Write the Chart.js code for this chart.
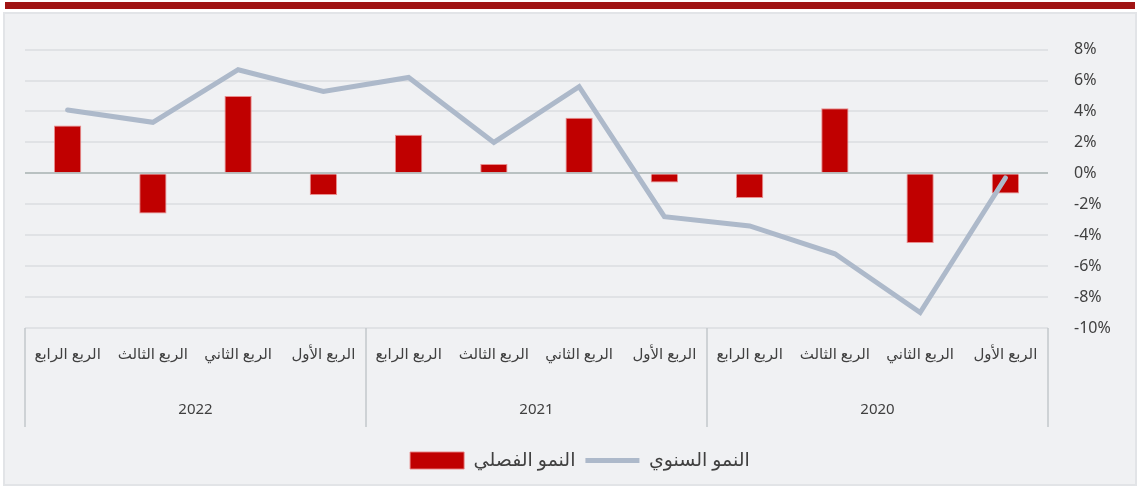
<!DOCTYPE html>
<html lang="ar">
<head>
<meta charset="utf-8">
<title>النمو الفصلي والسنوي</title>
<script src="https://cdn.jsdelivr.net/npm/chart.js@4.4.1/dist/chart.umd.min.js"></script>
<style>
    body { margin: 0; background: #ffffff; width: 1140px; height: 487px; overflow: hidden; }
    #bandeau { position: absolute; left: 5px; top: 2px; width: 1130px; height: 7px; background: #A01414; }
    #cadre { position: absolute; left: 3px; top: 12px; width: 1130px; height: 470px; border: 2px solid #E2E4E7; background: #F0F1F3; }
    #graphique { display: block; }
</style>
</head>
<body>
<div id="bandeau"></div>
<div id="cadre"><canvas id="graphique" width="1130" height="470"></canvas></div>
<script>
/*global Chart*/

// Données (ordre chronologique, l'axe est inversé)
const annees = ["2020", "2021", "2022"];
const trimestres = ["الربع الأول", "الربع الثاني", "الربع الثالث", "الربع الرابع"];
const nomBarres = "النمو الفصلي";
const nomLigne = "النمو السنوي";
const croissanceTrimestrielle = [-1.3, -4.5, 4.2, -1.6, -0.6, 3.6, 0.6, 2.5, -1.4, 5.0, -2.6, 3.1];
const croissanceAnnuelle = [-0.3, -9.0, -5.2, -3.4, -2.8, 5.6, 2.0, 6.2, 5.3, 6.7, 3.3, 4.1];
const ticksY = [-10, -8, -6, -4, -2, 0, 2, 4, 6, 8];

const police = '"Noto Sans", "DejaVu Sans", sans-serif';
const etiquettes = annees.flatMap(() => trimestres);

// Lignes de séparation et années sous l'axe des catégories
const groupesAnnees = {
    id: "groupesAnnees",
    afterDraw(chart) {
        const ctx = chart.ctx;
        const x = chart.scales.x;
        const n = etiquettes.length;
        const p = i => x.getPixelForValue(i);
        const demi = (p(1) - p(0)) / 2;
        const haut = chart.chartArea.bottom;
        const bas = haut + 99;

        ctx.save();
        ctx.strokeStyle = "#C3C7CB";
        ctx.lineWidth = 1.5;
        for (let g = 0; g <= annees.length; g++) {
            const i = g * trimestres.length;
            const bx = i < n ? p(i) - demi : p(n - 1) + demi;
            ctx.beginPath();
            ctx.moveTo(bx, haut);
            ctx.lineTo(bx, bas);
            ctx.stroke();
        }
        ctx.fillStyle = "#404040";
        ctx.font = "15px " + police;
        ctx.textAlign = "center";
        ctx.textBaseline = "middle";
        annees.forEach((a, g) => {
            const i0 = g * trimestres.length;
            const cx = (p(i0) + p(i0 + trimestres.length - 1)) / 2;
            ctx.fillText(a, cx, haut + 82);
        });
        ctx.restore();
    }
};

new Chart(document.getElementById("graphique"), {
    data: {
        labels: etiquettes,
        datasets: [
            {
                type: "bar",
                label: nomBarres,
                data: croissanceTrimestrielle,
                backgroundColor: "#C00000",
                borderColor: "rgba(232, 130, 130, 0.9)",
                borderWidth: 1,
                barPercentage: 0.32,
                categoryPercentage: 1,
                pointStyle: "rect",
                order: 2,
            },
            {
                type: "line",
                label: nomLigne,
                data: croissanceAnnuelle,
                borderColor: "#ADB9CA",
                backgroundColor: "#ADB9CA",
                borderWidth: 5,
                borderCapStyle: "round",
                borderJoinStyle: "miter",
                tension: 0,
                pointRadius: 0,
                pointHoverRadius: 0,
                pointStyle: "line",
                order: 1,
            },
        ],
    },
    options: {
        responsive: false,
        animation: false,
        layout: { padding: { top: 29.5, left: 20, right: 0, bottom: 4 } },
        plugins: {
            tooltip: { enabled: false },
            legend: {
                position: "bottom",
                labels: {
                    usePointStyle: true,
                    pointStyleWidth: 54,
                    boxHeight: 17,
                    padding: 10,
                    color: "#404040",
                    font: { family: police, size: 19 },
                    sort: (a, b) => a.datasetIndex - b.datasetIndex,
                },
            },
        },
        scales: {
            x: {
                reverse: true,
                grid: { display: false, drawTicks: false },
                border: { display: false },
                ticks: {
                    color: "#404040",
                    font: { family: police, size: 15 },
                    padding: 18,
                    maxRotation: 0,
                    autoSkip: false,
                },
                afterFit(scale) { scale.height = 113; },
            },
            y: {
                position: "right",
                min: ticksY[0],
                max: ticksY[ticksY.length - 1],
                afterBuildTicks(scale) { scale.ticks = ticksY.map(v => ({ value: v })); },
                grid: {
                    drawTicks: false,
                    lineWidth: 2,
                    color: c => (c.tick && c.tick.value === 0 ? "#B9C1C1" : "#E0E2E5"),
                },
                border: { display: false },
                ticks: {
                    color: "#404040",
                    font: { family: police, size: 16 },
                    padding: 26,
                    callback: v => v + "%",
                },
                afterFit(scale) { scale.width = 87; },
            },
        },
    },
    plugins: [groupesAnnees],
});
</script>
</body>
</html>
